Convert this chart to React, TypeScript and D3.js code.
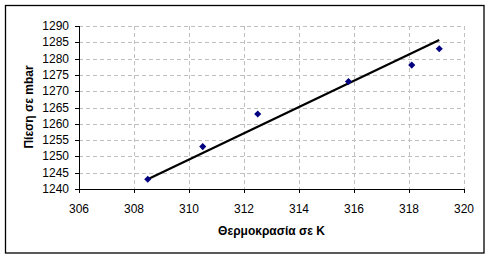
import React from "react";
import * as d3 from "d3";

const xTicks = [306, 308, 310, 312, 314, 316, 318, 320];
const yTicks = [1240, 1245, 1250, 1255, 1260, 1265, 1270, 1275, 1280, 1285, 1290];
const temps = [308.5, 310.5, 312.5, 315.8, 318.1, 319.1];
const pressures = [1243, 1253, 1263, 1273, 1278, 1283];
const lineTemps = [308.5, 319.1];
const linePressures = [1243, 1285.7];
const xTitle = "Θερμοκρασία σε K";
const yTitle = "Πίεση σε mbar";

export default function App() {
  const W = 492, H = 259;
  const left = 79, right = 464, top = 26, bottom = 189;
  const x = d3.scaleLinear().domain([306, 320]).range([left, right]);
  const y = d3.scaleLinear().domain([1240, 1290]).range([bottom, top]);
  const font = "'Liberation Sans', Arial, sans-serif";
  const line = d3.line<number>().x((d, i) => x(lineTemps[i])).y((d) => y(d));
  const diamond = d3.symbol().type(d3.symbolDiamond2).size(32)();
  return (
    <svg width={W} height={H} style={{ position: "fixed", left: 0, top: 0, background: "#fff" }}>
      <rect x={5.5} y={5.5} width={478.5} height={247.5} fill="#fff" stroke="#000" strokeWidth={1.3} />
      {yTicks.slice(1).map((t) => (
        <line key={"gy" + t} x1={left} x2={right} y1={Math.round(y(t)) + 0.5} y2={Math.round(y(t)) + 0.5}
          stroke="#c0c0c0" strokeDasharray="4,3" />
      ))}
      {xTicks.slice(1).map((t) => (
        <line key={"gx" + t} x1={Math.round(x(t)) + 0.5} x2={Math.round(x(t)) + 0.5} y1={top} y2={bottom}
          stroke="#c0c0c0" strokeDasharray="4,3" />
      ))}
      <line x1={left + 0.5} x2={left + 0.5} y1={top} y2={bottom + 0.5} stroke="#000" />
      <line x1={left} x2={right + 0.5} y1={bottom + 0.5} y2={bottom + 0.5} stroke="#000" />
      {yTicks.map((t) => (
        <g key={"ty" + t}>
          <line x1={left - 4} x2={left} y1={Math.round(y(t)) + 0.5} y2={Math.round(y(t)) + 0.5} stroke="#000" />
          <text x={69} y={y(t) + 4} textAnchor="end" fontFamily={font} fontSize={12} fill="#000">{t}</text>
        </g>
      ))}
      {xTicks.map((t) => (
        <g key={"tx" + t}>
          <line x1={Math.round(x(t)) + 0.5} x2={Math.round(x(t)) + 0.5} y1={bottom} y2={bottom + 4} stroke="#000" />
          <text x={x(t)} y={213} textAnchor="middle" fontFamily={font} fontSize={12} fill="#000">{t}</text>
        </g>
      ))}
      <path d={line(linePressures) || ""} stroke="#000" strokeWidth={2.2} fill="none" />
      {temps.map((t, i) => (
        <path key={"p" + i} d={diamond || ""} transform={`translate(${x(t)},${y(pressures[i])})`} fill="#000080" />
      ))}
      <text x={(left + right) / 2} y={235} textAnchor="middle" fontFamily={font} fontWeight="bold" fontSize={12} fill="#000">{xTitle}</text>
      <text transform={`translate(33,107) rotate(-90)`} textAnchor="middle" fontFamily={font} fontWeight="bold" fontSize={12} fill="#000">{yTitle}</text>
    </svg>
  );
}
